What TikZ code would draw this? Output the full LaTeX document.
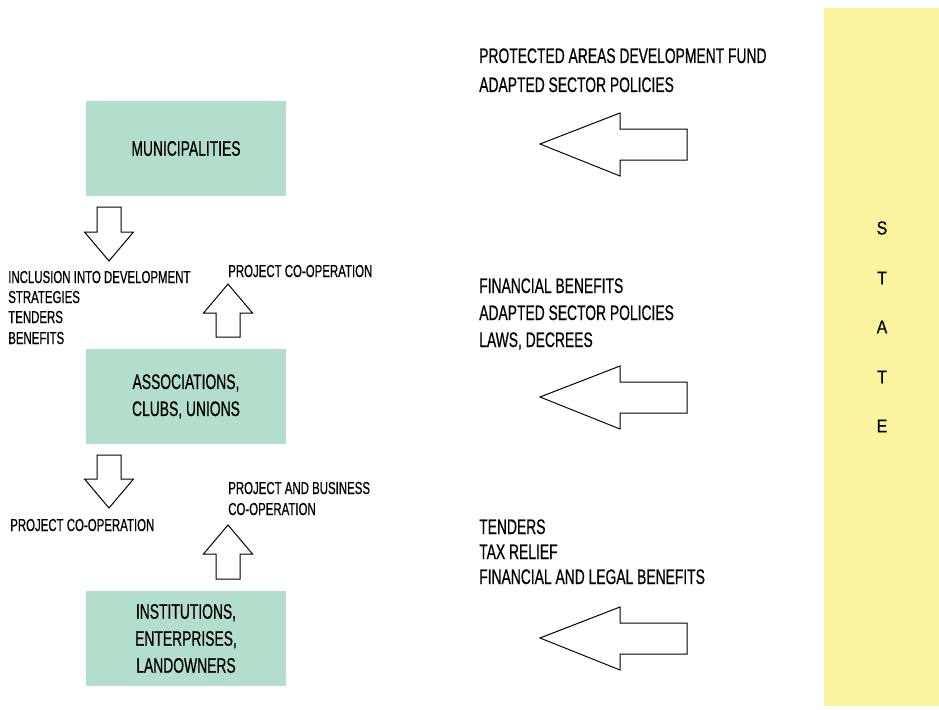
\documentclass[tikz,border=0pt]{standalone}
\usepackage{fontspec}
\setmainfont[FakeStretch=0.66,FakeBold=0.6]{Liberation Sans}
\newfontfamily\statefont[FakeStretch=0.85,FakeBold=0.4]{Liberation Sans}
\definecolor{boxgreen}{RGB}{180,222,204}
\definecolor{stateyellow}{RGB}{250,243,160}
\tikzset{
  bigtext/.style={font=\fontsize{15.75}{20.25}\selectfont, inner sep=0pt},
  smalltext/.style={font=\fontsize{13}{15}\selectfont, inner sep=0pt, anchor=base west},
  rtext/.style={bigtext, anchor=base west},
  entity/.style={fill=boxgreen, minimum width=150pt, minimum height=71.25pt, align=center,
    font=\fontsize{15.75}{20.25}\selectfont, inner sep=0pt},
  hollow/.style={draw=black, line width=0.75pt, fill=white, line join=miter},
  letter/.style={font=\statefont\fontsize{14}{16}\selectfont, inner sep=0pt}
}
\begin{document}
\begin{tikzpicture}[x=0.75pt,y=-0.75pt]
\useasboundingbox (0,0) rectangle (939,710);
% state band
\fill[stateyellow] (824,8) rectangle (939,706);
\node[letter] (s1) at (882,228) {S};
\node[letter] (s2) at (882,278) {T};
\node[letter] (s3) at (882,327) {A};
\node[letter] (s4) at (882,377) {T};
\node[letter] (s5) at (882,426) {E};
% entity boxes
\node[entity] (muni) at (186,148.5) {MUNICIPALITIES};
\node[entity] (assoc) at (186,396.5) {ASSOCIATIONS,\\CLUBS, UNIONS};
\node[entity] (inst) at (186,638.5) {INSTITUTIONS,\\ENTERPRISES,\\LANDOWNERS};
% down arrows
\draw[hollow] (97,207) -- (121,207) -- (121,232) -- (133.5,232) -- (109,261) -- (84.5,232) -- (97,232) -- cycle;
\draw[hollow] (97,455) -- (121,455) -- (121,479) -- (133.5,479) -- (109,508) -- (84.5,479) -- (97,479) -- cycle;
% up arrows
\draw[hollow] (216,337) -- (240,337) -- (240,313) -- (252.5,313) -- (228,284) -- (203.5,313) -- (216,313) -- cycle;
\draw[hollow] (216,579) -- (240,579) -- (240,554) -- (252.5,554) -- (228,525) -- (203.5,554) -- (216,554) -- cycle;
% left arrows
\draw[hollow] (540,144) -- (620,113) -- (620,129) -- (687,129) -- (687,160) -- (620,160) -- (620,176) -- cycle;
\draw[hollow] (540,397) -- (620,366) -- (620,382) -- (687,382) -- (687,413) -- (620,413) -- (620,429) -- cycle;
\draw[hollow] (540,638) -- (620,607) -- (620,623) -- (687,623) -- (687,654) -- (620,654) -- (620,670) -- cycle;
% right text blocks
\node[rtext] (r1a) at (479,63) {PROTECTED AREAS DEVELOPMENT FUND};
\node[rtext] (r1b) at (479,92) {ADAPTED SECTOR POLICIES};
\node[rtext] (r2a) at (479,293) {FINANCIAL BENEFITS};
\node[rtext] (r2b) at (479,320) {ADAPTED SECTOR POLICIES};
\node[rtext] (r2c) at (479,347) {LAWS, DECREES};
\node[rtext] (r3a) at (479,534) {TENDERS};
\node[rtext] (r3b) at (479,559) {TAX RELIEF};
\node[rtext] (r3c) at (479,584) {FINANCIAL AND LEGAL BENEFITS};
% left small texts
\node[smalltext] (l1a) at (8,283) {INCLUSION INTO DEVELOPMENT};
\node[smalltext] (l1b) at (8,303) {STRATEGIES};
\node[smalltext] (l1c) at (8,323) {TENDERS};
\node[smalltext] (l1d) at (8,344) {BENEFITS};
\node[smalltext] (p1) at (228,277) {PROJECT CO-OPERATION};
\node[smalltext] (p2) at (10,531) {PROJECT CO-OPERATION};
\node[smalltext] (p3a) at (228,494) {PROJECT AND BUSINESS};
\node[smalltext] (p3b) at (228,515) {CO-OPERATION};
\end{tikzpicture}
\end{document}
